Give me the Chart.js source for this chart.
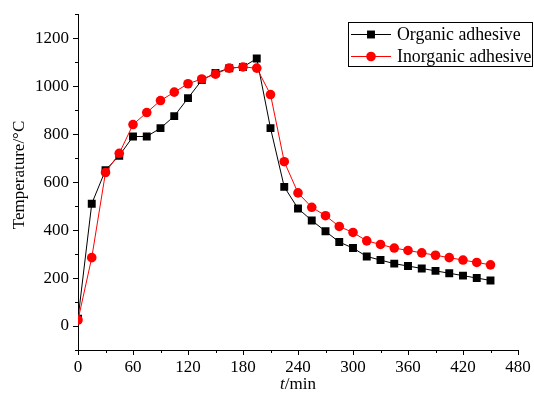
<!DOCTYPE html>
<html>
<head>
<meta charset="utf-8">
<script src="https://cdn.jsdelivr.net/npm/chart.js@4.4.0/dist/chart.umd.min.js"></script>
<style>
  html, body { margin: 0; padding: 0; background: #fff; }
  #wrap { width: 534px; height: 396px; }
</style>
</head>
<body>
<div id="wrap"><canvas id="temp-chart" width="534" height="396"></canvas></div>
<script>
const tempChart = document.getElementById("temp-chart");

// time in minutes, every 15 min
const times = [0, 15, 30, 45, 60, 75, 90, 105, 120, 135, 150, 165, 180, 195, 210, 225,
  240, 255, 270, 285, 300, 315, 330, 345, 360, 375, 390, 405, 420, 435, 450];
const organic = [30, 510, 650, 710, 790, 790, 825, 875, 950, 1025, 1055, 1075, 1080, 1115, 825, 580,
  490, 440, 395, 350, 325, 290, 275, 260, 250, 240, 230, 220, 210, 200, 190];
const inorganic = [25, 285, 640, 720, 840, 890, 940, 975, 1010, 1030, 1050, 1075, 1080, 1075, 965, 685,
  555, 495, 460, 415, 390, 355, 340, 325, 315, 305, 295, 285, 275, 265, 255];

const xLabels = [0, 60, 120, 180, 240, 300, 360, 420, 480];
const yLabels = [0, 200, 400, 600, 800, 1000, 1200];

const serif = "'Liberation Serif', 'Times New Roman', serif";
Chart.defaults.font.family = serif;
Chart.defaults.font.size = 17;
Chart.defaults.color = "#000";

// outward ticks (major longer than minor), axis titles and the boxed legend
const decor = {
  id: "decor",
  afterDraw(chart) {
    const ctx = chart.ctx;
    const xs = chart.scales.x;
    const ys = chart.scales.y;
    const area = chart.chartArea;
    ctx.save();
    ctx.strokeStyle = "#000";
    ctx.lineWidth = 1;
    ctx.beginPath();
    xs.ticks.forEach(t => {
      const px = Math.round(xs.getPixelForValue(t.value)) + 0.5;
      const len = t.label !== "" ? 5 : 3;
      ctx.moveTo(px, area.bottom);
      ctx.lineTo(px, area.bottom + len);
    });
    ys.ticks.forEach(t => {
      const py = Math.round(ys.getPixelForValue(t.value)) + 0.5;
      const len = t.label !== "" ? 5 : 3;
      ctx.moveTo(area.left, py);
      ctx.lineTo(area.left - len, py);
    });
    ctx.stroke();

    // y title
    ctx.fillStyle = "#000";
    ctx.font = "17px " + serif;
    ctx.textAlign = "center";
    ctx.textBaseline = "middle";
    ctx.save();
    ctx.translate(20, 175);
    ctx.rotate(-Math.PI / 2);
    ctx.fillText("Temperature/°C", 0, 0);
    ctx.restore();

    // x title, t in italics
    const cx = (area.left + area.right) / 2;
    ctx.textAlign = "left";
    ctx.textBaseline = "alphabetic";
    ctx.font = "italic 17px " + serif;
    const w1 = ctx.measureText("t").width;
    ctx.font = "17px " + serif;
    const w2 = ctx.measureText("/min").width;
    const sx = cx - (w1 + w2) / 2;
    ctx.font = "italic 17px " + serif;
    ctx.fillText("t", sx, 389);
    ctx.font = "17px " + serif;
    ctx.fillText("/min", sx + w1, 389);

    // legend
    ctx.strokeRect(348.5, 22.5, 184, 44);
    ctx.font = "17.8px " + serif;
    chart.data.datasets.forEach((ds, i) => {
      const ry = 34.5 + i * 22;
      ctx.strokeStyle = ds.borderColor;
      ctx.beginPath();
      ctx.moveTo(351, ry);
      ctx.lineTo(391, ry);
      ctx.stroke();
      ctx.fillStyle = ds.pointBackgroundColor;
      Chart.helpers.drawPoint(ctx, {
        pointStyle: ds.pointStyle, radius: ds.pointRadius, borderWidth: 0, rotation: 0
      }, 371, ry);
      ctx.fillStyle = "#000";
      ctx.textBaseline = "middle";
      ctx.fillText(ds.label, 397, ry + 1);
    });
    ctx.restore();
  }
};

new Chart(tempChart, {
  type: "line",
  data: {
    datasets: [
      {
        label: "Organic adhesive",
        data: times.map((t, i) => ({ x: t, y: organic[i] })),
        borderColor: "#000",
        backgroundColor: "#000",
        pointBackgroundColor: "#000",
        pointBorderWidth: 0,
        pointStyle: "rect",
        pointRadius: 5.6,
        borderWidth: 1,
        order: 1,
      },
      {
        label: "Inorganic adhesive",
        data: times.map((t, i) => ({ x: t, y: inorganic[i] })),
        borderColor: "#ff0000",
        backgroundColor: "#ff0000",
        pointBackgroundColor: "#ff0000",
        pointBorderWidth: 0,
        pointStyle: "circle",
        pointRadius: 4.8,
        borderWidth: 1,
        order: 0,
      },
    ],
  },
  options: {
    responsive: false,
    animation: false,
    devicePixelRatio: 1,
    layout: { padding: { top: 13, right: 16, left: 0, bottom: 0 } },
    plugins: { legend: { display: false }, tooltip: { enabled: false } },
    scales: {
      x: {
        type: "linear",
        min: 0,
        max: 480,
        afterFit: s => { s.height = 46; },
        ticks: {
          stepSize: 30,
          autoSkip: false,
          maxRotation: 0,
          padding: 2,
          callback: v => (xLabels.includes(v) ? v : ""),
        },
        grid: { drawOnChartArea: false, tickLength: 5, tickColor: "transparent" },
        border: { color: "#000", width: 1 },
      },
      y: {
        min: -100,
        max: 1300,
        afterFit: s => { s.width = 78; },
        ticks: {
          stepSize: 100,
          autoSkip: false,
          padding: 4,
          callback: v => (yLabels.includes(v) ? v : ""),
        },
        grid: { drawOnChartArea: false, tickLength: 5, tickColor: "transparent" },
        border: { color: "#000", width: 1 },
      },
    },
  },
  plugins: [decor],
});
</script>
</body>
</html>
